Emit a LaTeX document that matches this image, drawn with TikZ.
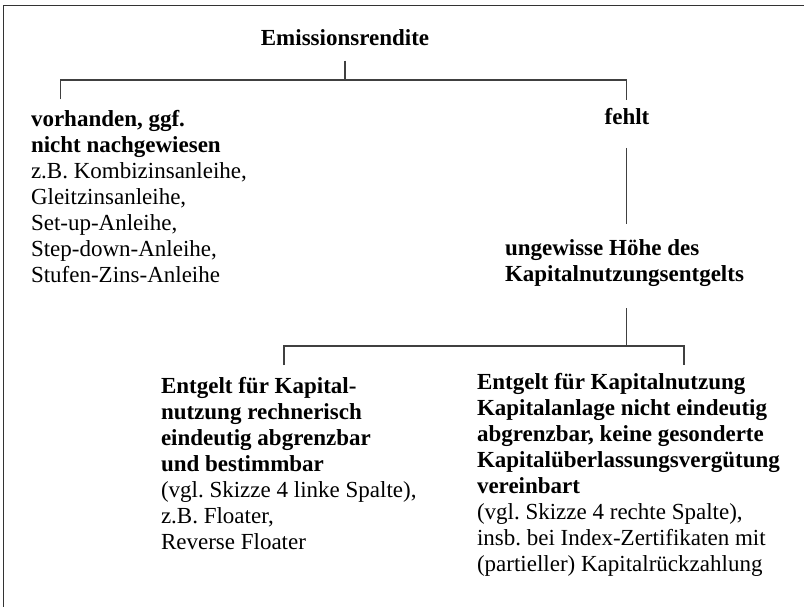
\documentclass[tikz,border=0pt]{standalone}
\usepackage{fontspec}
\setmainfont{Liberation Serif}
\frenchspacing
\begin{document}
\begin{tikzpicture}[x=1pt,y=-1pt,
  txt/.style={inner sep=0pt, outer sep=0pt, align=left, font=\fontsize{23}{26}\selectfont\frenchspacing},
  hd/.style={txt, font=\fontsize{23}{26}\selectfont\bfseries},
  ln/.style={draw=black!75, line width=1.3pt},
  frame/.style={draw=black!80, line width=1.4pt}]
\useasboundingbox (0,0) rectangle (804,607);
\draw[frame] (3.3,607) -- (3.3,5.6) -- (804,5.6);

% base anchor of a multi-line node = baseline of its last line
\node[hd, anchor=base] (root) at (345,46) {Emissionsrendite};
\node[txt, anchor=base west] (vorh) at (31,282) {\textbf{vorhanden, ggf.}\\\textbf{nicht nachgewiesen}\\z.B. Kombizinsanleihe,\\Gleitzinsanleihe,\\Set-up-Anleihe,\\Step-down-Anleihe,\\Stufen-Zins-Anleihe};
\node[hd, anchor=base] (fehlt) at (627,125) {fehlt};
\node[hd, anchor=base west] (ungew) at (505,281) {ungewisse Höhe des\\Kapitalnutzungsentgelts};
\node[txt, anchor=base west] (bl) at (161,549) {\textbf{Entgelt für Kapital-}\\\textbf{nutzung rechnerisch}\\\textbf{eindeutig abgrenzbar}\\\textbf{und bestimmbar}\\(vgl. Skizze 4 linke Spalte),\\z.B. Floater,\\Reverse Floater};
\node[txt, anchor=base west] (br) at (477,571) {\textbf{Entgelt für Kapitalnutzung}\\\textbf{Kapitalanlage nicht eindeutig}\\\textbf{abgrenzbar, keine gesonderte}\\\textbf{Kapitalüberlassungsvergütung}\\\textbf{vereinbart}\\(vgl. Skizze 4 rechte Spalte),\\insb. bei Index-Zertifikaten mit\\(partieller) Kapitalrückzahlung};

\coordinate (r0) at (345,60.7);
\coordinate (j1) at (345,80);
\coordinate (ja) at (60.7,80);
\coordinate (jb) at (626.7,80);
\coordinate (da) at (60.7,99.5);
\coordinate (db) at (626.7,100);
\coordinate (f0) at (626.7,148);
\coordinate (f1) at (626.7,224);
\coordinate (u0) at (626.7,308);
\coordinate (u1) at (626.7,346);
\coordinate (ka) at (284,346);
\coordinate (kb) at (684,346);
\coordinate (ea) at (284,365);
\coordinate (eb) at (684,365);

\draw[ln] (r0) -- (j1);
\draw[ln] (da) -- (ja) -- (jb) -- (db);
\draw[ln] (f0) -- (f1);
\draw[ln] (u0) -- (u1);
\draw[ln] (ea) -- (ka) -- (kb) -- (eb);
\end{tikzpicture}
\end{document}
